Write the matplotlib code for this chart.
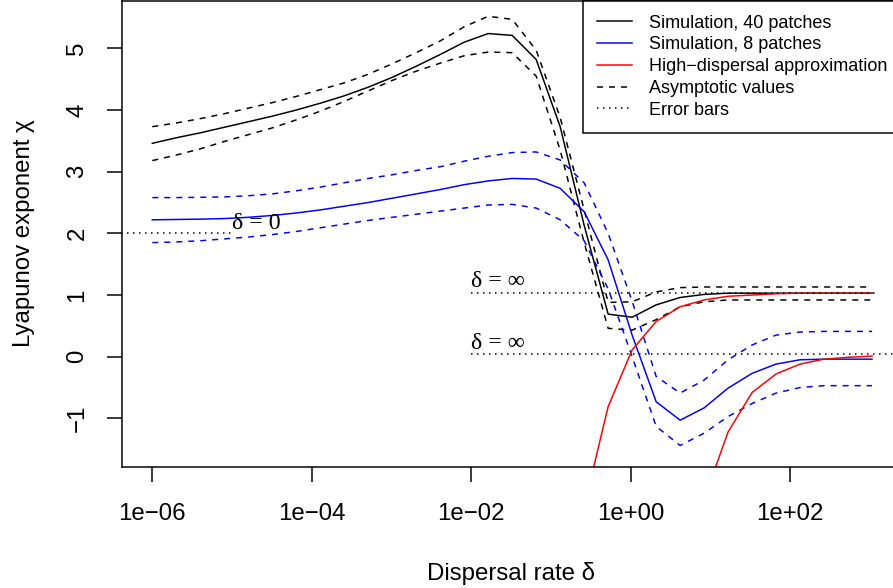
import matplotlib
matplotlib.use("Agg")
import matplotlib.pyplot as plt
from matplotlib.lines import Line2D
import numpy as np

plt.rcParams['font.family'] = ['Liberation Sans', 'DejaVu Sans']

# ---------------- data ----------------
dispersal = [1.0e-6, 2.0e-6, 4.0e-6, 8.0e-6, 1.6e-5, 3.2e-5, 6.4e-5, 1.28e-4,
             2.56e-4, 5.12e-4, 1.024e-3, 2.048e-3, 4.096e-3, 8.192e-3,
             1.6384e-2, 3.2768e-2, 6.5536e-2, 0.131072, 0.262144, 0.524288,
             1.048576, 2.097152, 4.194304, 8.388608, 16.777216, 33.554432,
             67.108864, 134.217728, 268.435456, 536.870912, 1073.741824]

sim40 = [3.46, 3.55, 3.63, 3.72, 3.81, 3.90, 4.00, 4.11, 4.23, 4.37, 4.53,
         4.71, 4.90, 5.10, 5.24, 5.21, 4.82, 3.73, 2.13, 0.69, 0.64, 0.84,
         0.96, 1.01, 1.03, 1.03, 1.03, 1.03, 1.03, 1.03, 1.03]
sim40_hi = [3.73, 3.79, 3.86, 3.94, 4.03, 4.12, 4.22, 4.33, 4.44, 4.58, 4.75,
            4.93, 5.12, 5.35, 5.52, 5.47, 4.97, 3.88, 2.38, 0.88, 0.89, 1.05,
            1.12, 1.13, 1.13, 1.13, 1.13, 1.13, 1.13, 1.13, 1.13]
sim40_lo = [3.18, 3.27, 3.37, 3.49, 3.60, 3.71, 3.84, 3.98, 4.14, 4.31, 4.48,
            4.63, 4.76, 4.88, 4.94, 4.93, 4.55, 3.35, 1.85, 0.46, 0.43, 0.60,
            0.81, 0.89, 0.92, 0.92, 0.92, 0.92, 0.92, 0.92, 0.92]

sim8 = [2.22, 2.225, 2.23, 2.24, 2.26, 2.29, 2.33, 2.38, 2.44, 2.50, 2.57,
        2.64, 2.71, 2.79, 2.85, 2.89, 2.88, 2.73, 2.35, 1.57, 0.35, -0.73,
        -1.03, -0.83, -0.51, -0.27, -0.12, -0.05, -0.04, -0.04, -0.04]
sim8_hi = [2.58, 2.58, 2.585, 2.59, 2.61, 2.64, 2.69, 2.75, 2.82, 2.89, 2.95,
           3.02, 3.08, 3.17, 3.25, 3.31, 3.32, 3.19, 2.82, 2.00, 0.90, -0.32,
           -0.59, -0.38, -0.05, 0.19, 0.35, 0.40, 0.41, 0.41, 0.41]
sim8_lo = [1.85, 1.86, 1.88, 1.91, 1.94, 1.98, 2.03, 2.09, 2.15, 2.21, 2.26,
           2.31, 2.36, 2.41, 2.46, 2.47, 2.41, 2.22, 1.88, 1.10, 0.00, -1.13,
           -1.44, -1.24, -0.97, -0.76, -0.59, -0.50, -0.47, -0.47, -0.47]

nan = float('nan')
approx40 = [nan] * 18 + [-2.43, -0.81, 0.11, 0.57, 0.81, 0.92, 0.98, 1.00,
                         1.02, 1.03, 1.03, 1.03, 1.03]
approx8 = [nan] * 23 + [-2.31, -1.22, -0.58, -0.28, -0.12, -0.04, -0.01, 0.01]

# asymptotic values (dotted lines)
asym0_x, asym0_y = [1e-7, 1e-5], [2.0, 2.0]
asym40_x, asym40_y = [1e-2, 1.25e3], [1.03, 1.03]
asym8_x, asym8_y = [1e-2, 1e5], [0.04, 0.04]

xticks = [1e-6, 1e-4, 1e-2, 1e0, 1e2]
xticklabels = ['1e\u221206', '1e\u221204', '1e\u221202', '1e+00', '1e+02']
yticks = [-1, 0, 1, 2, 3, 4, 5]
yticklabels = ['\u22121', '0', '1', '2', '3', '4', '5']

legend_labels = ['Simulation, 40 patches', 'Simulation, 8 patches',
                 'High\u2212dispersal approximation', 'Asymptotic values',
                 'Error bars']

# ---------------- figure ----------------
W, H = 893, 588
fig = plt.figure(figsize=(W / 100, H / 100), dpi=100)
L, R, B, T = 121.7, 901.0, 466.7, 0.5
ax = fig.add_axes([L / W, (H - B) / H, (R - L) / W, (B - T) / H])
ax.set_xscale('log')
ax.set_xlim(10 ** -6.384, 10 ** 3.394)
ax.set_ylim(-1.784, 5.776)

lw = 1.08
dash = (0, (4, 4))
dot = (0, (1, 3))

ax.plot(dispersal, sim40, color='black', lw=lw)
ax.plot(dispersal, sim40_hi, color='black', lw=lw, ls=dash)
ax.plot(dispersal, sim40_lo, color='black', lw=lw, ls=dash)
ax.plot(dispersal, sim8, color='blue', lw=lw)
ax.plot(dispersal, sim8_hi, color='blue', lw=lw, ls=dash)
ax.plot(dispersal, sim8_lo, color='blue', lw=lw, ls=dash)
ax.plot(dispersal, approx40, color='red', lw=lw)
ax.plot(dispersal, approx8, color='red', lw=lw)
ax.plot(asym0_x, asym0_y, color='black', lw=lw, ls=dot)
ax.plot(asym40_x, asym40_y, color='black', lw=lw, ls=dot)
ax.plot(asym8_x, asym8_y, color='black', lw=lw, ls=dot)

serif = ['Liberation Serif', 'DejaVu Serif']
fs = 17.28
ax.annotate('\u03b4 = 0', xy=(1e-5, 2.0), xytext=(0, 3.2), textcoords='offset points',
            ha='left', va='baseline', fontsize=fs, family=serif)
ax.annotate('\u03b4 = \u221e', xy=(1e-2, 1.03), xytext=(0, 4.3), textcoords='offset points',
            ha='left', va='baseline', fontsize=fs, family=serif)
ax.annotate('\u03b4 = \u221e', xy=(1e-2, 0.04), xytext=(0, 4.0), textcoords='offset points',
            ha='left', va='baseline', fontsize=fs, family=serif)

ax.set_xticks(xticks, xticklabels)
ax.set_yticks(yticks, yticklabels)
ax.minorticks_off()
ax.tick_params(axis='both', direction='out', length=10.8, width=lw, labelsize=fs)
ax.tick_params(axis='x', pad=15.5)
ax.tick_params(axis='y', pad=13.2)
for lab in ax.get_yticklabels():
    lab.set_rotation(90)
    lab.set_va('center')
for sp in ax.spines.values():
    sp.set_linewidth(lw)

ax.set_xlabel('Dispersal rate \u03b4', fontsize=fs)
ax.set_ylabel('Lyapunov exponent \u03c7', fontsize=fs)
ax.xaxis.set_label_coords(0.5, (B - 562.0) / (B - T))
ax.yaxis.set_label_coords((35.3 - L) / (R - L), 0.5)

handles = [Line2D([], [], color='black', lw=lw),
           Line2D([], [], color='blue', lw=lw),
           Line2D([], [], color='red', lw=lw),
           Line2D([], [], color='black', lw=lw, ls=dash),
           Line2D([], [], color='black', lw=lw, ls=dot)]
leg = ax.legend(handles, legend_labels, loc='upper right', bbox_to_anchor=(1, 1),
                borderaxespad=0, fontsize=12.96, fancybox=False, framealpha=1,
                edgecolor='black', handlelength=1.94, handletextpad=0.9,
                borderpad=0.78, labelspacing=0.267)
leg.get_frame().set_linewidth(lw)

fig.savefig('out.png', dpi=100)
